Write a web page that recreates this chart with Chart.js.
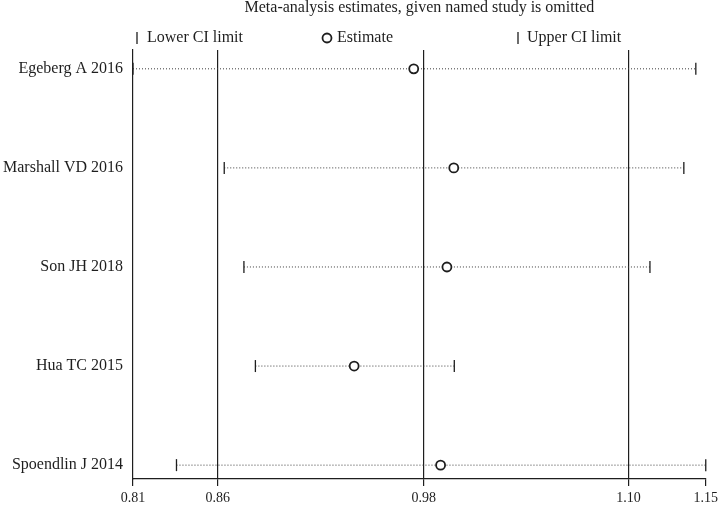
<!DOCTYPE html>
<html>
<head>
<meta charset="utf-8">
<script src="https://cdn.jsdelivr.net/npm/chart.js@4/dist/chart.umd.min.js"></script>
<style>
  html, body { margin: 0; padding: 0; background: #fff; }
  #wrap { width: 722px; height: 510px; }
</style>
</head>
<body>
<div id="wrap"><canvas id="c" width="722" height="510"></canvas></div>
<script>
const titleText = "Meta-analysis estimates, given named study is omitted";
const studies = ["Egeberg A 2016", "Marshall VD 2016", "Son JH 2018", "Hua TC 2015", "Spoendlin J 2014"];
const lowerCI = [0.8112, 0.8645, 0.8760, 0.8827, 0.8366];
const estimate = [0.9752, 0.9986, 0.9946, 0.9404, 0.9909];
const upperCI = [1.1400, 1.1330, 1.1132, 0.9989, 1.1458];
const tickValues = [0.8112, 0.8607, 0.9810, 1.1007, 1.1458];
const tickLabels = ["0.81", "0.86", "0.98", "1.10", "1.15"];
const legendLabels = ["Lower CI limit", "Estimate", "Upper CI limit"];

const FONT = '"Liberation Serif", "Times New Roman", serif';
const INK = '#1e1e1e';

const datasets = [];
studies.forEach((s, i) => {
  datasets.push({
    label: s + " CI",
    data: [{x: lowerCI[i], y: i}, {x: upperCI[i], y: i}],
    showLine: true,
    borderColor: '#3c3c3c',
    borderWidth: 1,
    borderDash: [1, 2],
    pointRadius: 0,
    clip: false,
    order: 10
  });
});
datasets.push({
  label: legendLabels[0],
  data: lowerCI.map((v, i) => ({x: v, y: i})),
  pointStyle: 'line', rotation: 90, pointRadius: 6,
  borderColor: INK, borderWidth: 1.3, clip: false, order: 5
});
datasets.push({
  label: legendLabels[2],
  data: upperCI.map((v, i) => ({x: v, y: i})),
  pointStyle: 'line', rotation: 90, pointRadius: 6,
  borderColor: INK, borderWidth: 1.3, clip: false, order: 5
});
datasets.push({
  label: legendLabels[1],
  data: estimate.map((v, i) => ({x: v, y: i})),
  pointStyle: 'circle', pointRadius: 4.5,
  borderColor: INK, backgroundColor: '#ffffff', borderWidth: 1.8, clip: false, order: 0
});

const headerPlugin = {
  id: 'header',
  afterDraw(chart) {
    const {ctx, chartArea} = chart;
    ctx.save();
    ctx.fillStyle = INK;
    ctx.strokeStyle = INK;
    ctx.textBaseline = 'middle';
    ctx.font = '16px ' + FONT;
    ctx.textAlign = 'center';
    ctx.fillText(titleText, (chartArea.left + chartArea.right) / 2, 8);
    ctx.textAlign = 'left';
    ctx.font = '16px ' + FONT;
    const y = 38;
    const L = chartArea.left;
    // lower CI
    ctx.lineWidth = 1.3;
    ctx.beginPath(); ctx.moveTo(L + 4, y - 6); ctx.lineTo(L + 4, y + 6); ctx.stroke();
    ctx.fillText(legendLabels[0], L + 14, y);
    // estimate
    ctx.lineWidth = 1.8;
    ctx.beginPath(); ctx.arc(L + 194, y, 4.5, 0, Math.PI * 2); ctx.stroke();
    ctx.fillText(legendLabels[1], L + 204, y);
    // upper CI
    ctx.lineWidth = 1.3;
    ctx.beginPath(); ctx.moveTo(L + 385, y - 6); ctx.lineTo(L + 385, y + 6); ctx.stroke();
    ctx.fillText(legendLabels[2], L + 394, y);
    ctx.restore();
  }
};

new Chart(document.getElementById('c'), {
  type: 'scatter',
  data: { datasets },
  options: {
    responsive: false,
    animation: false,
    events: [],
    layout: { padding: { top: 50, right: 15.3, left: 0, bottom: 0 } },
    plugins: {
      legend: { display: false },
      title: { display: false },
      tooltip: { enabled: false }
    },
    scales: {
      x: {
        type: 'linear',
        min: tickValues[0],
        max: tickValues[tickValues.length - 1],
        afterBuildTicks(scale) { scale.ticks = tickValues.map(v => ({value: v})); },
        afterFit(scale) { scale.height = 31; },
        ticks: {
          autoSkip: false,
          maxRotation: 0,
          padding: 4,
          color: INK,
          font: { family: FONT, size: 14 },
          callback: (v, idx) => tickLabels[idx]
        },
        grid: {
          color: (c) => (c.index > 0 && c.index < tickValues.length - 1) ? INK : 'rgba(0,0,0,0)',
          lineWidth: 1.2,
          tickColor: INK,
          tickLength: 7,
          drawOnChartArea: true
        },
        border: { display: true, color: INK, width: 1.2 }
      },
      y: {
        type: 'linear',
        reverse: true,
        min: -0.19,
        max: 4.14,
        afterBuildTicks(scale) { scale.ticks = studies.map((s, i) => ({value: i})); },
        afterFit(scale) { scale.width = 133; },
        ticks: {
          autoSkip: false,
          padding: 10,
          color: INK,
          font: { family: FONT, size: 16 },
          callback: (v) => studies[v]
        },
        grid: { display: false, drawTicks: false },
        border: { display: true, color: INK, width: 1.2 }
      }
    }
  },
  plugins: [headerPlugin]
});
</script>
</body>
</html>
